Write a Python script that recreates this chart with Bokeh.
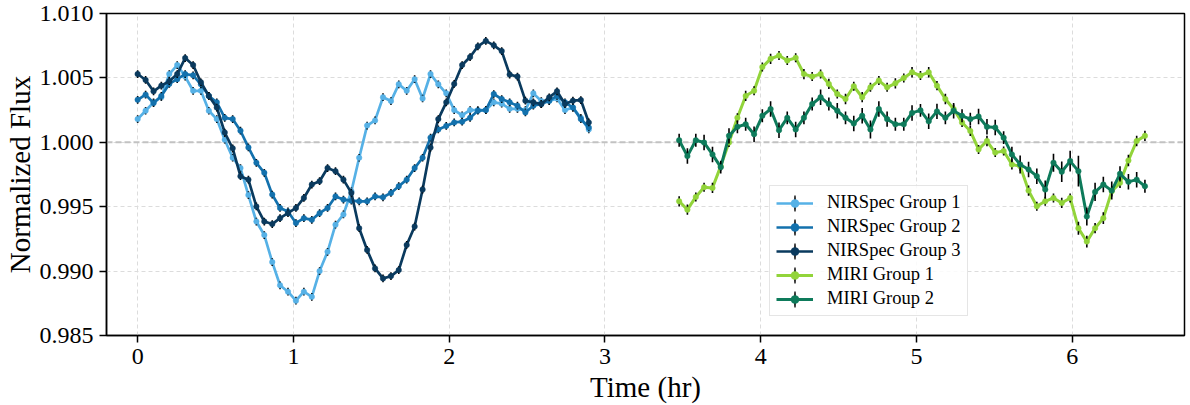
from bokeh.plotting import figure
from bokeh.models import Range1d, FixedTicker, PrintfTickFormatter, Span, Legend, LegendItem, ColumnDataSource
from bokeh.embed import file_html
from bokeh.resources import INLINE

# ---------------- data ----------------
nirspec_time = [0.000, 0.051, 0.102, 0.152, 0.203, 0.254, 0.305, 0.356, 0.406, 0.457,
                0.508, 0.559, 0.610, 0.660, 0.711, 0.762, 0.813, 0.864, 0.914, 0.965,
                1.016, 1.067, 1.118, 1.168, 1.219, 1.270, 1.321, 1.372, 1.422, 1.473,
                1.524, 1.575, 1.626, 1.676, 1.727, 1.778, 1.829, 1.880, 1.930, 1.981,
                2.032, 2.083, 2.134, 2.184, 2.235, 2.286, 2.337, 2.388, 2.438, 2.489,
                2.540, 2.591, 2.642, 2.692, 2.743, 2.794, 2.845, 2.896]

nirspec1_flux = [1.0018, 1.00245, 1.0031, 1.0035, 1.0053, 1.0060, 1.0051, 1.0040, 1.0040, 1.00245,
                 1.0018, 1.0002, 0.9988, 0.9980, 0.9959, 0.99385, 0.9928, 0.9907, 0.9889, 0.9884,
                 0.9877, 0.9884, 0.9880, 0.9900, 0.9915, 0.9936, 0.9944, 0.9962, 0.9988, 1.0013,
                 1.0017, 1.0035, 1.0032, 1.0045, 1.0040, 1.0049, 1.0034, 1.0053, 1.0045, 1.0038,
                 1.0025, 1.0021, 1.0025, 1.0025, 1.0025, 1.0031, 1.0030, 1.0026, 1.0026, 1.0025,
                 1.0038, 1.0032, 1.0032, 1.0034, 1.0025, 1.0027, 1.0019, 1.0010]

nirspec2_flux = [1.0033, 1.0037, 1.00305, 1.0036, 1.00453, 1.0049, 1.0053, 1.0052, 1.0045, 1.0036,
                 1.0031, 1.0019, 1.0018, 1.0009, 0.9996, 0.99841, 0.99763, 0.99594, 0.9949, 0.99463,
                 0.99373, 0.99411, 0.99398, 0.9945, 0.9949, 0.9958, 0.99555, 0.99547, 0.99542, 0.99542,
                 0.9958, 0.99573, 0.99607, 0.99659, 0.9971, 0.9980, 0.9988, 1.00036, 1.0010, 1.00127,
                 1.00154, 1.0016, 1.0019, 1.00245, 1.0025, 1.00375, 1.00336, 1.0031, 1.00284, 1.00232,
                 1.00284, 1.00297, 1.00323, 1.0036, 1.0031, 1.0027, 1.0018, 1.00115]

nirspec3_flux = [1.0053, 1.00484, 1.00396, 1.0044, 1.00474, 1.0053, 1.00654, 1.0060, 1.00466, 1.0036,
                 1.0027, 1.00076, 0.99953, 0.99737, 0.9971, 0.99502, 0.99385, 0.99365, 0.99411, 0.9945,
                 0.9949, 0.99568, 0.99672, 0.99698, 0.9980, 0.99776, 0.9971, 0.99607, 0.99333, 0.99164,
                 0.99021, 0.98943, 0.98961, 0.99008, 0.99203, 0.99346, 0.99633, 0.99959, 1.0018, 1.0031,
                 1.00453, 1.0060, 1.00662, 1.00745, 1.00787, 1.00753, 1.00708, 1.00526, 1.0051, 1.00323,
                 1.0031, 1.00297, 1.00349, 1.00396, 1.00297, 1.00323, 1.00328, 1.00154]

nirspec_err = 0.0003

miri_time = [3.476, 3.529, 3.583, 3.636, 3.690, 3.743, 3.796, 3.850, 3.903, 3.957,
             4.010, 4.063, 4.117, 4.170, 4.224, 4.277, 4.330, 4.384, 4.437, 4.491,
             4.544, 4.597, 4.651, 4.704, 4.758, 4.811, 4.864, 4.918, 4.971, 5.025,
             5.078, 5.131, 5.185, 5.238, 5.292, 5.345, 5.398, 5.452, 5.505, 5.559,
             5.612, 5.665, 5.719, 5.772, 5.826, 5.879, 5.932, 5.986, 6.039, 6.093,
             6.146, 6.199, 6.253, 6.306, 6.360, 6.413, 6.466]

miri1_flux = [0.99542, 0.99477, 0.99576, 0.99651, 0.99646, 0.99815, 0.99998, 1.0019, 1.0036, 1.0040,
              1.00584, 1.00648, 1.00674, 1.00635, 1.00656, 1.0053, 1.0051, 1.0053, 1.00453, 1.00375,
              1.00336, 1.00435, 1.0035, 1.00427, 1.00479, 1.00427, 1.00458, 1.0050, 1.00544, 1.00518,
              1.00544, 1.0044, 1.00336, 1.00258, 1.00154, 1.00088, 0.99945, 1.0001, 0.9992, 0.99932,
              0.99828, 0.99815, 0.99625, 0.99503, 0.99542, 0.99568, 0.99529, 0.99568, 0.99333, 0.99229,
              0.99333, 0.99411, 0.9962, 0.99685, 0.99859, 1.0001, 1.0005]

miri1_err = [0.0004, 0.0004, 0.00035, 0.00035, 0.0004, 0.00035, 0.00035, 0.00035, 0.0004, 0.00035,
             0.00035, 0.0004, 0.00035, 0.00035, 0.00035, 0.0004, 0.00035, 0.00035, 0.0004, 0.00035,
             0.0004, 0.00035, 0.0004, 0.00035, 0.00035, 0.00035, 0.0004, 0.00035, 0.0004, 0.00035,
             0.0004, 0.00035, 0.0004, 0.00035, 0.00035, 0.0004, 0.00035, 0.0004, 0.00035, 0.00035,
             0.0004, 0.00035, 0.0004, 0.00035, 0.00035, 0.00035, 0.0004, 0.00035, 0.0005, 0.00045,
             0.0004, 0.00045, 0.0004, 0.0004, 0.00045, 0.0004, 0.0004]

miri2_flux = [1.00016, 0.99893, 1.00016, 0.99998, 0.99906, 0.99807, 1.0005, 1.0012, 1.0014, 1.00063,
              1.00206, 1.00258, 1.00094, 1.0019, 1.0010, 1.0019, 1.00297, 1.0035, 1.00297, 1.00245,
              1.0019, 1.00146, 1.00206, 1.0010, 1.00258, 1.0018, 1.0014, 1.0014, 1.00228, 1.00248,
              1.00163, 1.0024, 1.0019, 1.00245, 1.00206, 1.0018, 1.0020, 1.0012, 1.00115, 1.00036,
              0.99906, 0.99828, 0.99789, 0.99737, 0.99633, 0.99841, 0.99771, 0.99854, 0.99776, 0.99424,
              0.99615, 0.99672, 0.99625, 0.99755, 0.99693, 0.9971, 0.99659]

miri2_err = [0.0005, 0.0006, 0.0005, 0.0006, 0.0006, 0.0005, 0.0006, 0.0005, 0.0005, 0.0006,
             0.0005, 0.0006, 0.0006, 0.0005, 0.0006, 0.0005, 0.0005, 0.0006, 0.0005, 0.0006,
             0.0005, 0.0006, 0.0006, 0.0007, 0.0006, 0.0006, 0.0005, 0.0005, 0.0006, 0.0005,
             0.0006, 0.0006, 0.0005, 0.0006, 0.0005, 0.0005, 0.0006, 0.0006, 0.0006, 0.0005,
             0.0006, 0.0007, 0.0006, 0.0006, 0.0007, 0.0007, 0.0008, 0.0008, 0.0012, 0.0007,
             0.0007, 0.0006, 0.0007, 0.0006, 0.0006, 0.0006, 0.0005]

series_labels = ["NIRSpec Group 1", "NIRSpec Group 2", "NIRSpec Group 3", "MIRI Group 1", "MIRI Group 2"]
series_colors = ["#56b1e6", "#1371ad", "#0a3a5e", "#92d43a", "#0e7b5b"]

x_ticks = [0, 1, 2, 3, 4, 5, 6]
y_ticks = [0.985, 0.990, 0.995, 1.000, 1.005, 1.010]

# ---------------- figure ----------------
FONT = "Liberation Serif"

p = figure(width=1190, height=405, output_backend="svg", toolbar_location=None,
           x_range=Range1d(-0.2, 6.72), y_range=Range1d(0.985, 1.010),
           min_border_left=90, min_border_right=6, min_border_top=13, min_border_bottom=4)
p.background_fill_color = "white"
p.border_fill_color = "white"
p.outline_line_color = "black"
p.outline_line_width = 1.5

for ax in (p.xaxis[0], p.yaxis[0]):
    ax.axis_line_color = "black"
    ax.axis_line_width = 1.5
    ax.major_tick_line_color = "black"
    ax.major_tick_line_width = 1.5
    ax.major_tick_out = 7
    ax.major_tick_in = 0
    ax.minor_tick_out = 0
    ax.minor_tick_in = 0
    ax.major_label_text_font = FONT
    ax.major_label_text_font_size = "24px"
    ax.major_label_text_color = "black"
    ax.axis_label_text_font = FONT
    ax.axis_label_text_font_size = "29px"
    ax.axis_label_text_font_style = "normal"
    ax.axis_label_text_color = "black"

p.xaxis.major_label_standoff = 6
p.yaxis.major_label_standoff = 6
p.xaxis.ticker = FixedTicker(ticks=x_ticks)
p.yaxis.ticker = FixedTicker(ticks=y_ticks)
p.yaxis.formatter = PrintfTickFormatter(format="%.3f")
p.xaxis.axis_label = "Time (hr)"
p.yaxis.axis_label = "Normalized Flux"
p.xaxis.axis_label_standoff = 4
p.yaxis.axis_label_standoff = 1

for g in (p.xgrid[0], p.ygrid[0]):
    g.grid_line_color = "#dcdcdc"
    g.grid_line_dash = "4 3"
    g.grid_line_width = 1

p.add_layout(Span(location=1.0, dimension="width", line_color="#c2c2c2",
                  line_width=2, line_dash="6 3", level="underlay"))

series = [
    (nirspec_time, nirspec1_flux, [nirspec_err] * len(nirspec_time)),
    (nirspec_time, nirspec2_flux, [nirspec_err] * len(nirspec_time)),
    (nirspec_time, nirspec3_flux, [nirspec_err] * len(nirspec_time)),
    (miri_time, miri1_flux, miri1_err),
    (miri_time, miri2_flux, miri2_err),
]
line_widths = [2.7, 2.7, 2.7, 3, 3]

items = []
for (t, f, e), label, color, lw in zip(series, series_labels, series_colors, line_widths):
    src = ColumnDataSource(dict(t=t, f=f,
                                lo=[fi - ei for fi, ei in zip(f, e)],
                                hi=[fi + ei for fi, ei in zip(f, e)]))
    lr = p.line("t", "f", source=src, line_color=color, line_width=lw)
    p.segment(x0="t", y0="lo", x1="t", y1="hi", source=src, line_color="black", line_width=1.6)
    mr = p.scatter("t", "f", source=src, size=5.5, fill_color=color, line_color=color, line_width=0.5)
    proxy = p.ellipse(x=[float("nan")], y=[float("nan")], width=1.6, height=20,
                      width_units="screen", height_units="screen",
                      fill_color="black", line_color="black", line_width=0.6)
    items.append(LegendItem(label=label, renderers=[lr, proxy, mr]))

legend = Legend(items=items, location=(663, 19),
                label_text_font=FONT, label_text_font_size="18.5px", label_text_color="black",
                glyph_width=37, glyph_height=20, label_height=20, label_standoff=14,
                spacing=3, padding=6, margin=0,
                border_line_color="#cccccc", border_line_width=1.5,
                background_fill_color="white", background_fill_alpha=0.85)
p.add_layout(legend)

open("out.html", "w").write(file_html(p, INLINE))
